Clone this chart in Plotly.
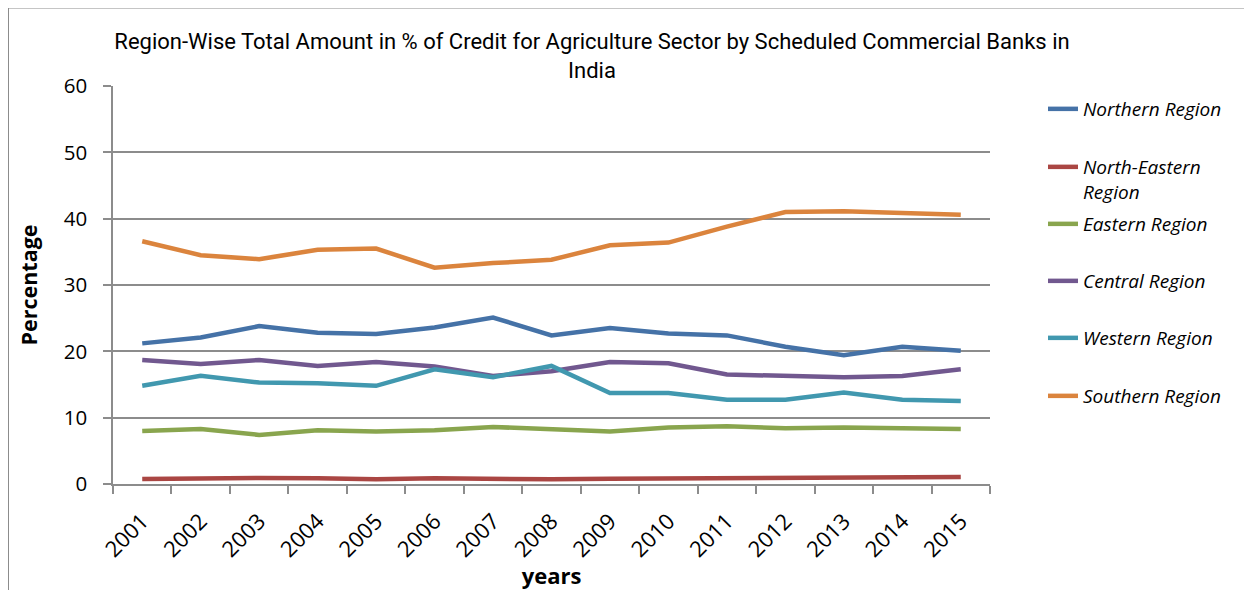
import plotly.graph_objects as go

years = ["2001", "2002", "2003", "2004", "2005", "2006", "2007", "2008",
         "2009", "2010", "2011", "2012", "2013", "2014", "2015"]

northern = [21.2, 22.1, 23.8, 22.8, 22.6, 23.6, 25.1, 22.4, 23.5, 22.7, 22.4, 20.7, 19.4, 20.7, 20.1]
north_eastern = [0.75, 0.9, 0.9, 0.85, 0.7, 0.85, 0.75, 0.7, 0.8, 0.85, 0.85, 0.95, 1.05, 0.95, 1.05]
eastern = [8.0, 8.3, 7.4, 8.1, 7.9, 8.1, 8.6, 8.2, 7.9, 8.5, 8.7, 8.4, 8.5, 8.4, 8.3]
central = [18.7, 18.1, 18.7, 17.8, 18.4, 17.7, 16.3, 17.0, 18.4, 18.2, 16.5, 16.3, 16.1, 16.3, 17.3]
western = [14.8, 16.3, 15.3, 15.2, 14.8, 17.3, 16.1, 17.8, 13.7, 13.7, 12.7, 12.7, 13.8, 12.7, 12.5]
southern = [36.6, 34.5, 33.9, 35.3, 35.5, 32.6, 33.3, 33.8, 36.0, 36.4, 38.8, 41.0, 41.1, 40.8, 40.6]

series_names = ["Northern Region", "North-Eastern<br>Region", "Eastern Region",
                "Central Region", "Western Region", "Southern Region"]
series_values = [northern, north_eastern, eastern, central, western, southern]
colors = ["#4572A7", "#AA4643", "#89A54E", "#71588F", "#4198AF", "#DB843D"]

# page body adds an 8px offset; reference pixel coords are used below
OFF = 8
SW, SH = 1252, 590
W, H = SW - OFF, SH - OFF
L, R, T, B = 113, 990, 86, 484


def px(x):
    return (x - L) / (R - L)


def py(y):
    return (B - y) / (B - T)


legend_rows = [109, 167, 224, 281, 338, 396]

fig = go.Figure()
for i, (name, vals, col) in enumerate(zip(series_names, series_values, colors)):
    lg = "legend" if i == 0 else f"legend{i + 1}"
    fig.add_trace(go.Scatter(
        x=years, y=vals, name=name, mode="lines",
        line=dict(color=col, width=4.5),
        legend=lg,
    ))

font_main = "Open Sans, Noto Sans, sans-serif"
legend_common = dict(
    xanchor="left", bgcolor="rgba(0,0,0,0)", borderwidth=0,
    font=dict(family=font_main, size=19, color="#000000", style="italic"),
    itemwidth=30,
)
layout_legends = {}
for i, row in enumerate(legend_rows):
    key = "legend" if i == 0 else f"legend{i + 1}"
    if i == 1:
        layout_legends[key] = dict(x=px(1043), y=py(row - 19), yanchor="top", valign="top", **legend_common)
    else:
        layout_legends[key] = dict(x=px(1043), y=py(row), yanchor="middle", valign="middle", **legend_common)

fig.update_layout(
    width=W, height=H,
    margin=dict(l=L - OFF, r=SW - R, t=T - OFF, b=SH - B, pad=0),
    paper_bgcolor="white", plot_bgcolor="white",
    showlegend=True,
    title=dict(
        text="Region-Wise Total Amount in % of Credit for Agriculture Sector by Scheduled Commercial Banks in<br>India",
        x=px(592), xanchor="center", xref="paper",
        y=1 - 41 / H, yanchor="middle", yref="container",
        font=dict(family="Roboto, sans-serif", size=22, color="#000000"),
    ),
    xaxis=dict(
        type="category", tickson="boundaries",
        showgrid=False, showline=True, linecolor="#8c8c8c", linewidth=1.5,
        ticks="outside", ticklen=8, tickcolor="#8c8c8c", tickwidth=1.5,
        tickangle=-45, ticklabelstandoff=14,
        tickfont=dict(family=font_main, size=22, color="#000000"),
        title=dict(text="<b>years</b>", standoff=0,
                   font=dict(family=font_main, size=22, color="#000000")),
        range=[-0.5, 14.5],
    ),
    yaxis=dict(
        range=[0, 60], dtick=10, tick0=0,
        showgrid=True, gridcolor="#8c8c8c", gridwidth=1.5,
        showline=True, linecolor="#8c8c8c", linewidth=1.5, zeroline=False,
        ticks="outside", ticklen=8, tickcolor="#8c8c8c", tickwidth=1.5,
        ticklabelstandoff=12,
        tickfont=dict(family=font_main, size=20.5, color="#000000"),
        title=dict(text="<b>Percentage</b>", standoff=20,
                   font=dict(family=font_main, size=21.5, color="#000000")),
    ),
    **layout_legends,
)

# outer chart frame (top and left edges of the chart border)
fig.add_shape(type="line", xref="paper", yref="paper",
              x0=px(8), x1=px(SW + 10), y0=py(7.5), y1=py(7.5),
              line=dict(color="#8c8c8c", width=2))
fig.add_shape(type="line", xref="paper", yref="paper",
              x0=px(8), x1=px(8), y0=py(7.5), y1=py(SH + 10),
              line=dict(color="#8c8c8c", width=2))

fig.write_html("out.html")
